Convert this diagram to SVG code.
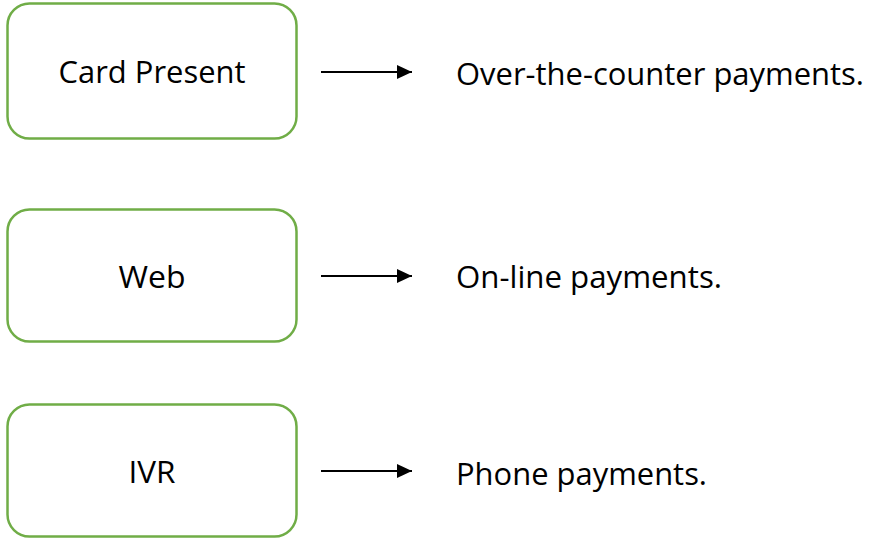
<svg xmlns="http://www.w3.org/2000/svg" width="875" height="538" viewBox="0 0 875 538">
  <defs>
    <style>
      .box { fill: #ffffff; stroke: #70AD47; stroke-width: 2.5; }
      .label { font-family: "Open Sans", "Noto Sans", "Liberation Sans", sans-serif; font-size: 30.5px; fill: #000000; }
      .mid { text-anchor: middle; }
      .conn { stroke: #000000; stroke-width: 2; fill: none; marker-end: url(#arrow); }
    </style>
    <marker id="arrow" markerUnits="userSpaceOnUse" markerWidth="16" markerHeight="16" refX="15" refY="7" orient="auto">
      <path d="M0,0 L15,7 L0,14 Z" fill="#000000"/>
    </marker>
  </defs>

  <rect width="875" height="538" fill="#ffffff"/>

  <!-- channel nodes -->
  <g id="node-card-present">
    <rect class="box" x="7.5" y="3.5" width="289" height="135" rx="22" ry="22"/>
    <text class="label mid" x="152" y="83" textLength="187" lengthAdjust="spacingAndGlyphs">Card Present</text>
  </g>
  <g id="node-web">
    <rect class="box" x="7.5" y="209.5" width="289" height="132" rx="22" ry="22"/>
    <text class="label mid" x="152" y="288" textLength="67" lengthAdjust="spacingAndGlyphs">Web</text>
  </g>
  <g id="node-ivr">
    <rect class="box" x="7.5" y="404.5" width="289" height="132" rx="22" ry="22"/>
    <text class="label mid" x="152" y="483" textLength="47" lengthAdjust="spacingAndGlyphs">IVR</text>
  </g>

  <!-- descriptions -->
  <g id="desc-card-present">
    <text class="label" x="456" y="85" textLength="408" lengthAdjust="spacingAndGlyphs">Over-the-counter payments.</text>
  </g>
  <g id="desc-web">
    <text class="label" x="456" y="288" textLength="266" lengthAdjust="spacingAndGlyphs">On-line payments.</text>
  </g>
  <g id="desc-ivr">
    <text class="label" x="456" y="485" textLength="251" lengthAdjust="spacingAndGlyphs">Phone payments.</text>
  </g>

  <!-- connectors -->
  <g id="connectors">
    <line class="conn" x1="321" y1="72" x2="412" y2="72"/>
    <line class="conn" x1="321" y1="276" x2="412" y2="276"/>
    <line class="conn" x1="321" y1="471" x2="412" y2="471"/>
  </g>
</svg>
